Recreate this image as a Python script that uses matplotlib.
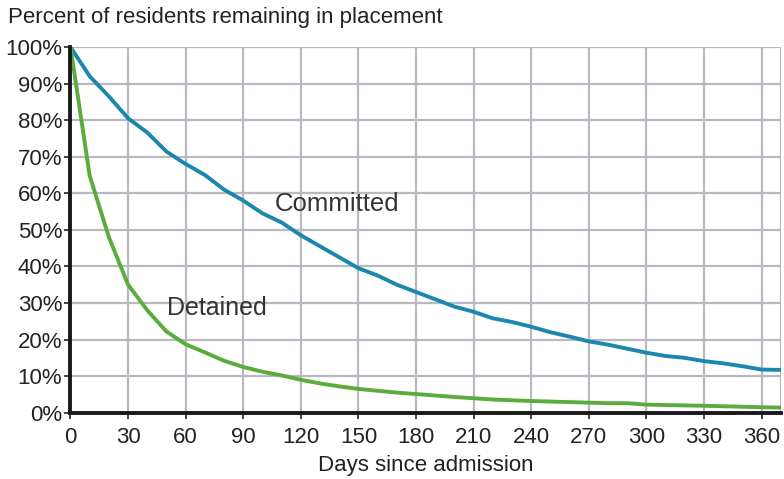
import matplotlib.pyplot as plt
from matplotlib.ticker import PercentFormatter

plt.rcParams['font.family'] = ['Liberation Sans', 'DejaVu Sans']

#days since admission and percent remaining for each group
committed_days = [0, 10, 20, 30, 40, 50, 60, 70, 80, 90, 100, 110, 120, 130, 140, 150, 160,
                  170, 180, 190, 200, 210, 220, 230, 240, 250, 260, 270, 280, 290, 300,
                  310, 320, 330, 340, 350, 360, 370]
committed_pct = [100, 92, 86.5, 80.5, 76.6, 71.4, 68, 65, 61, 58, 54.5, 52, 48.5, 45.5, 42.5,
                 39.5, 37.5, 35, 33, 31, 29, 27.6, 25.8, 24.8, 23.5, 22, 20.8, 19.5, 18.6,
                 17.5, 16.4, 15.5, 15, 14.1, 13.5, 12.7, 11.8, 11.7]

detained_days = [0, 10, 20, 30, 40, 50, 60, 70, 80, 90, 100, 110, 120, 130, 140, 150, 160,
                 170, 180, 200, 220, 240, 260, 280, 290, 300, 330, 360, 370]
detained_pct = [100, 64.8, 48, 35, 28, 22.2, 18.7, 16.5, 14.2, 12.5, 11.2, 10.2, 9, 8, 7.2,
                6.5, 6, 5.5, 5.1, 4.3, 3.6, 3.2, 2.9, 2.6, 2.6, 2.2, 1.9, 1.5, 1.4]

x_ticks = list(range(0, 361, 30))
y_ticks = list(range(0, 101, 10))

fig = plt.figure(figsize=(7.84, 4.79), dpi=100)
ax = fig.add_axes([0.0899, 0.1384, 0.9061, 0.7635])

grid_color = '#b9b9c1'
for x in x_ticks + [370]:
    ax.axvline(x, color=grid_color, lw=1.6, zorder=1)
for y in y_ticks:
    ax.axhline(y, color=grid_color, lw=1.6, zorder=1)

ax.plot(committed_days, committed_pct, color='#1c87ad', lw=2.8, zorder=3)
ax.plot(detained_days, detained_pct, color='#5aad3c', lw=2.8, zorder=3)

ax.text(139, 57, 'Committed', fontsize=18.5, color='#333333', ha='center', va='center')
ax.text(76, 28.6, 'Detained', fontsize=18, color='#333333', ha='center', va='center')

ax.set_xlim(0, 370)
ax.set_ylim(0, 100)
ax.set_xticks(x_ticks)
ax.set_yticks(y_ticks)
ax.yaxis.set_major_formatter(PercentFormatter(decimals=0))
ax.tick_params(labelsize=16, colors='#222222', length=4, width=1.2)
ax.tick_params(axis='x', pad=6)
ax.tick_params(axis='y', pad=2)

for side in ['top', 'right']:
    ax.spines[side].set_visible(False)
for side in ['left', 'bottom']:
    ax.spines[side].set_linewidth(2.8)
    ax.spines[side].set_color('#1a1a1a')
    ax.spines[side].set_zorder(4)

ax.set_xlabel('Days since admission', fontsize=16, color='#222222', labelpad=5)
fig.text(0.010, 0.963, 'Percent of residents remaining in placement', fontsize=16,
         color='#222222', ha='left', va='center')

fig.savefig('out.png', dpi=100)
